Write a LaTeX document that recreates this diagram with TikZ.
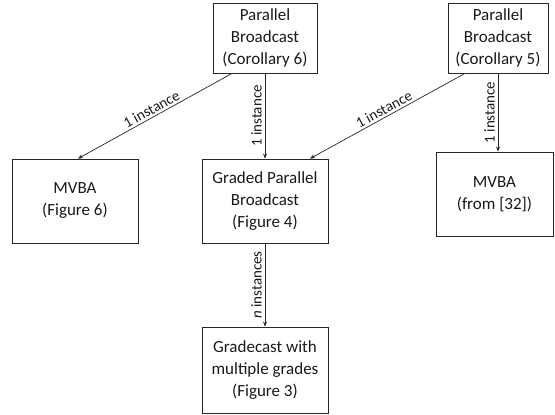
\documentclass[tikz,border=0pt]{standalone}
\usepackage{fontspec}
\setmainfont{Carlito}
\usetikzlibrary{calc,arrows.meta}
\begin{document}
\begin{tikzpicture}[x=1pt,y=-1pt,
  box/.style={draw=black!85,line width=0.8pt,align=center,inner sep=2pt,
    font=\fontsize{17}{22}\selectfont,text=black!90},
  conn/.style={draw=black!85,line width=0.7pt,-{Stealth[length=5pt,width=4pt]}},
  lbl/.style={font=\fontsize{15}{16}\selectfont,sloped,above,inner sep=2pt,text=black!90},
  vlbl/.style={font=\fontsize{15}{16}\selectfont,rotate=90,anchor=south,inner sep=3pt,text=black!90}]
\useasboundingbox (0,0) rectangle (555,415);
\node[box,minimum width=104pt,minimum height=70pt] (c6) at (265,38) {Parallel\\Broadcast\\(Corollary 6)};
\node[box,minimum width=100pt,minimum height=70pt] (c5) at (498,38) {Parallel\\Broadcast\\(Corollary 5)};
\node[box,minimum width=126pt,minimum height=84pt] (mvba6) at (75,201) {MVBA\\(Figure 6)};
\node[box,minimum width=126pt,minimum height=84pt] (gpb) at (265,201) {Graded Parallel\\Broadcast\\(Figure 4)};
\node[box,minimum width=117pt,minimum height=84pt] (mvba32) at (494.5,194) {MVBA\\(from [32])};
\node[box,minimum width=126pt,minimum height=86pt] (grade) at (265,370) {Gradecast with\\multiple grades\\(Figure 3)};
\draw[conn] ($(c6.south)+(-33,0)$) -- node[lbl] {1 instance} ($(mvba6.north)+(3,0)$);
\draw[conn] (c6.south) -- node[vlbl] {1 instance} (gpb.north);
\draw[conn] ($(c5.south)+(-33,0)$) -- node[lbl] {1 instance} ($(gpb.north)+(45,0)$);
\draw[conn] (c5.south) -- node[vlbl] {1 instance} (c5.south |- mvba32.north);
\draw[conn] (gpb.south) -- node[vlbl] {\emph{n} instances} (grade.north);
\end{tikzpicture}
\end{document}
